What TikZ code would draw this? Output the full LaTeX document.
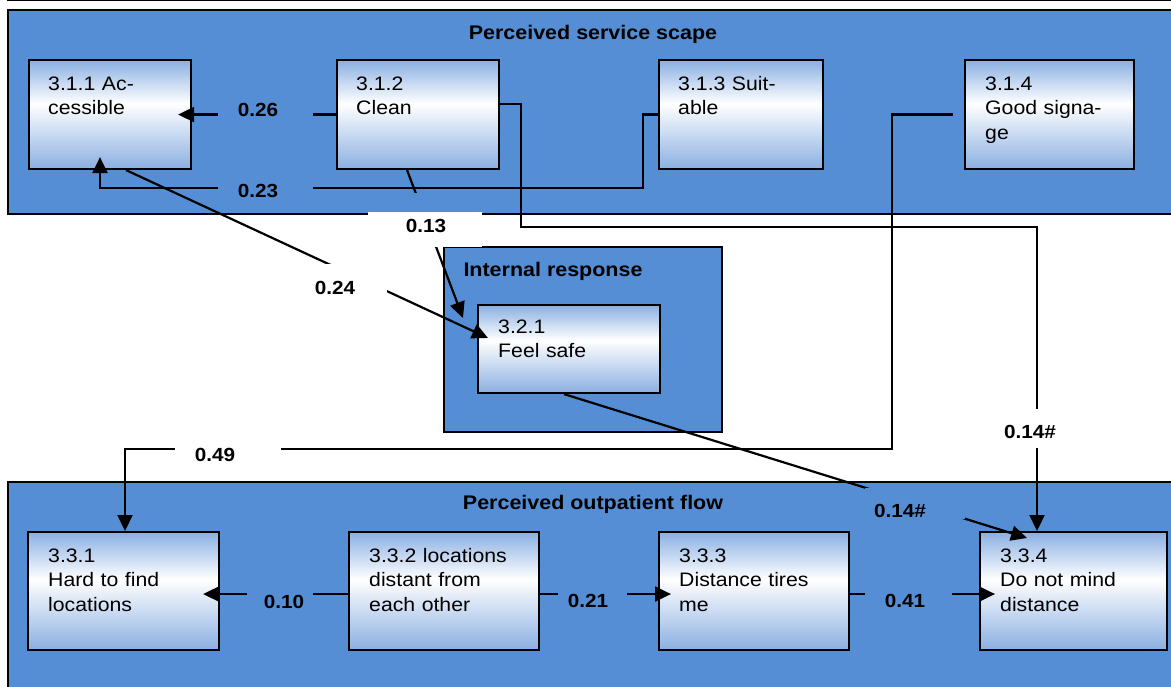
\documentclass[tikz,border=0pt]{standalone}
\usepackage{fontspec}
\setmainfont[FakeStretch=1.09]{Liberation Sans}
\usetikzlibrary{arrows.meta,calc}

\definecolor{panelblue}{RGB}{85,142,213}
\definecolor{boxblue}{RGB}{138,175,226}

% blue at top and bottom, white a little above the middle
\pgfdeclareverticalshading{boxshade}{100bp}{%
  color(0bp)=(boxblue); color(25bp)=(boxblue); color(55bp)=(white);
  color(75bp)=(boxblue); color(100bp)=(boxblue)}

\tikzset{
  panel/.style={draw=black, line width=2pt, fill=panelblue, rectangle,
    inner sep=0pt, anchor=north west},
  itembox/.style={draw=black, line width=2.1pt, shading=boxshade, rectangle,
    inner sep=0pt, anchor=north west},
  itemtext/.style={anchor=base west, inner sep=0pt, align=left, text width=175pt,
    font=\fontsize{19.5}{24.5}\selectfont},
  paneltitle/.style={anchor=base, inner sep=0pt,
    font=\bfseries\fontsize{19.7}{22}\selectfont},
  weight/.style={anchor=base, inner sep=0pt,
    font=\bfseries\fontsize{19}{22}\selectfont},
  arr/.style={line width=2.2pt, -{Triangle[length=16pt,width=15pt]}},
}

\begin{document}
\begin{tikzpicture}[x=1pt,y=-1pt]
\useasboundingbox (0,0) rectangle (1171,686);
\clip (0,0) rectangle (1171,686);

\draw[line width=1.2pt] (7,0.6) -- (1171,0.6);

% ---------- panels ----------
\node[panel, minimum width=1180pt, minimum height=204pt] (pscape) at (7,9) {};
\node[panel, minimum width=278pt, minimum height=185pt] (pinner) at (443,246) {};
\node[panel, minimum width=1180pt, minimum height=220pt] (pflow) at (7,481) {};

\node[paneltitle] (tscape) at (593,39) {Perceived service scape};
\node[paneltitle] (tinner) at (553,276) {Internal response};
\node[paneltitle] (tflow) at (593,509) {Perceived outpatient flow};

% ---------- items ----------
\node[itembox, minimum width=162pt, minimum height=109pt] (b311) at (28,59) {};
\node[itembox, minimum width=162pt, minimum height=109pt] (b312) at (336,59) {};
\node[itembox, minimum width=164pt, minimum height=109pt] (b313) at (658,59) {};
\node[itembox, minimum width=169pt, minimum height=109pt] (b314) at (964,59) {};

\node[itembox, minimum width=182pt, minimum height=88pt] (b321) at (477,304) {};

\node[itembox, minimum width=191pt, minimum height=118pt] (b331) at (27,531) {};
\node[itembox, minimum width=190pt, minimum height=118pt] (b332) at (348,531) {};
\node[itembox, minimum width=190pt, minimum height=118pt] (b333) at (658,531) {};
\node[itembox, minimum width=187pt, minimum height=118pt] (b334) at (979,531) {};

\node[itemtext] (t311) at ([shift={(20,31)}]b311.north west) {3.1.1 Ac-\\cessible};
\node[itemtext] (t312) at ([shift={(20,31)}]b312.north west) {3.1.2\\Clean};
\node[itemtext] (t313) at ([shift={(20,31)}]b313.north west) {3.1.3 Suit-\\able};
\node[itemtext] (t314) at ([shift={(21,31)}]b314.north west) {3.1.4\\Good signa-\\ge};
\node[itemtext] (t321) at ([shift={(21,29)}]b321.north west) {3.2.1\\Feel safe};
\node[itemtext] (t331) at ([shift={(21,31)}]b331.north west) {3.3.1\\Hard to find\\locations};
\node[itemtext] (t332) at ([shift={(21,31)}]b332.north west) {3.3.2 locations\\distant from\\each other};
\node[itemtext] (t333) at ([shift={(21,31)}]b333.north west) {3.3.3\\Distance tires\\me};
\node[itemtext] (t334) at ([shift={(21,31)}]b334.north west) {3.3.4\\Do not mind\\distance};

% ---------- connectors ----------
\coordinate (c23a) at (643,188);
\coordinate (c23b) at (100,188);
\coordinate (c13) at (463,318);
\coordinate (c24) at (488,338);
\coordinate (c49a) at (892,449);
\coordinate (c49b) at (125,449);
\coordinate (c14a) at (521,227);
\coordinate (c14b) at (1037,227);
\coordinate (c14c) at (1027,538);

\draw[arr, shorten >=-14pt] (b312.west) -- (b311.east);
\draw[arr, shorten >=-13pt] (b313.west) -| (c23a) -- (c23b) -- (c23b |- b311.south);
\draw[arr] ([xshift=-11pt]b312.south) -- (c13);
\draw[arr] ([xshift=16pt]b311.south) -- (c24);
\draw[arr, shorten <=11pt] (b314.west) -| (c49a) -- (c49b) -- (c49b |- b331.north);
\draw[arr] ([yshift=10.5pt]b312.east) -| (c14a) -- (c14b) -- (c14b |- b334.north);
\draw[arr] ([xshift=-5pt]b321.south) -- (c14c);
\draw[arr, shorten >=-17pt] ([yshift=-3pt]b332.west) -- ([yshift=-3pt]b331.east);
\draw[arr, shorten >=-13pt] ([yshift=-3pt]b332.east) -- ([yshift=-3pt]b333.west);
\draw[arr, shorten >=-16pt] ([yshift=-3pt]b333.east) -- ([yshift=-3pt]b334.west);

% ---------- clear space behind the weights ----------
\fill[panelblue] (218,100) rectangle (313,124);
\fill[panelblue] (218,178) rectangle (313,200);
\fill[panelblue] (405,193) rectangle (435,211.5);
\fill[white] (368,211.5) rectangle (482,247.2);
\fill[white] (300,264) rectangle (387,312);
\fill[white] (175,437) rectangle (281,465);
\fill[white] (1005,409) rectangle (1060,448);
\fill[panelblue] (865,488) rectangle (965,519);
\fill[panelblue] (247,582) rectangle (313,616);
\fill[panelblue] (558,582) rectangle (627,616);
\fill[panelblue] (865,582) rectangle (952,616);

% ---------- weights ----------
\node[weight] (w26) at (258,116) {0.26};
\node[weight] (w23) at (258,197) {0.23};
\node[weight] (w13) at (426,232) {0.13};
\node[weight] (w24) at (335,294) {0.24};
\node[weight] (w49) at (215,461) {0.49};
\node[weight] (w14a) at (1030,438) {0.14\#};
\node[weight] (w14b) at (900,517) {0.14\#};
\node[weight] (w10) at (284,608) {0.10};
\node[weight] (w21) at (588,607) {0.21};
\node[weight] (w41) at (905,607) {0.41};
\end{tikzpicture}
\end{document}
